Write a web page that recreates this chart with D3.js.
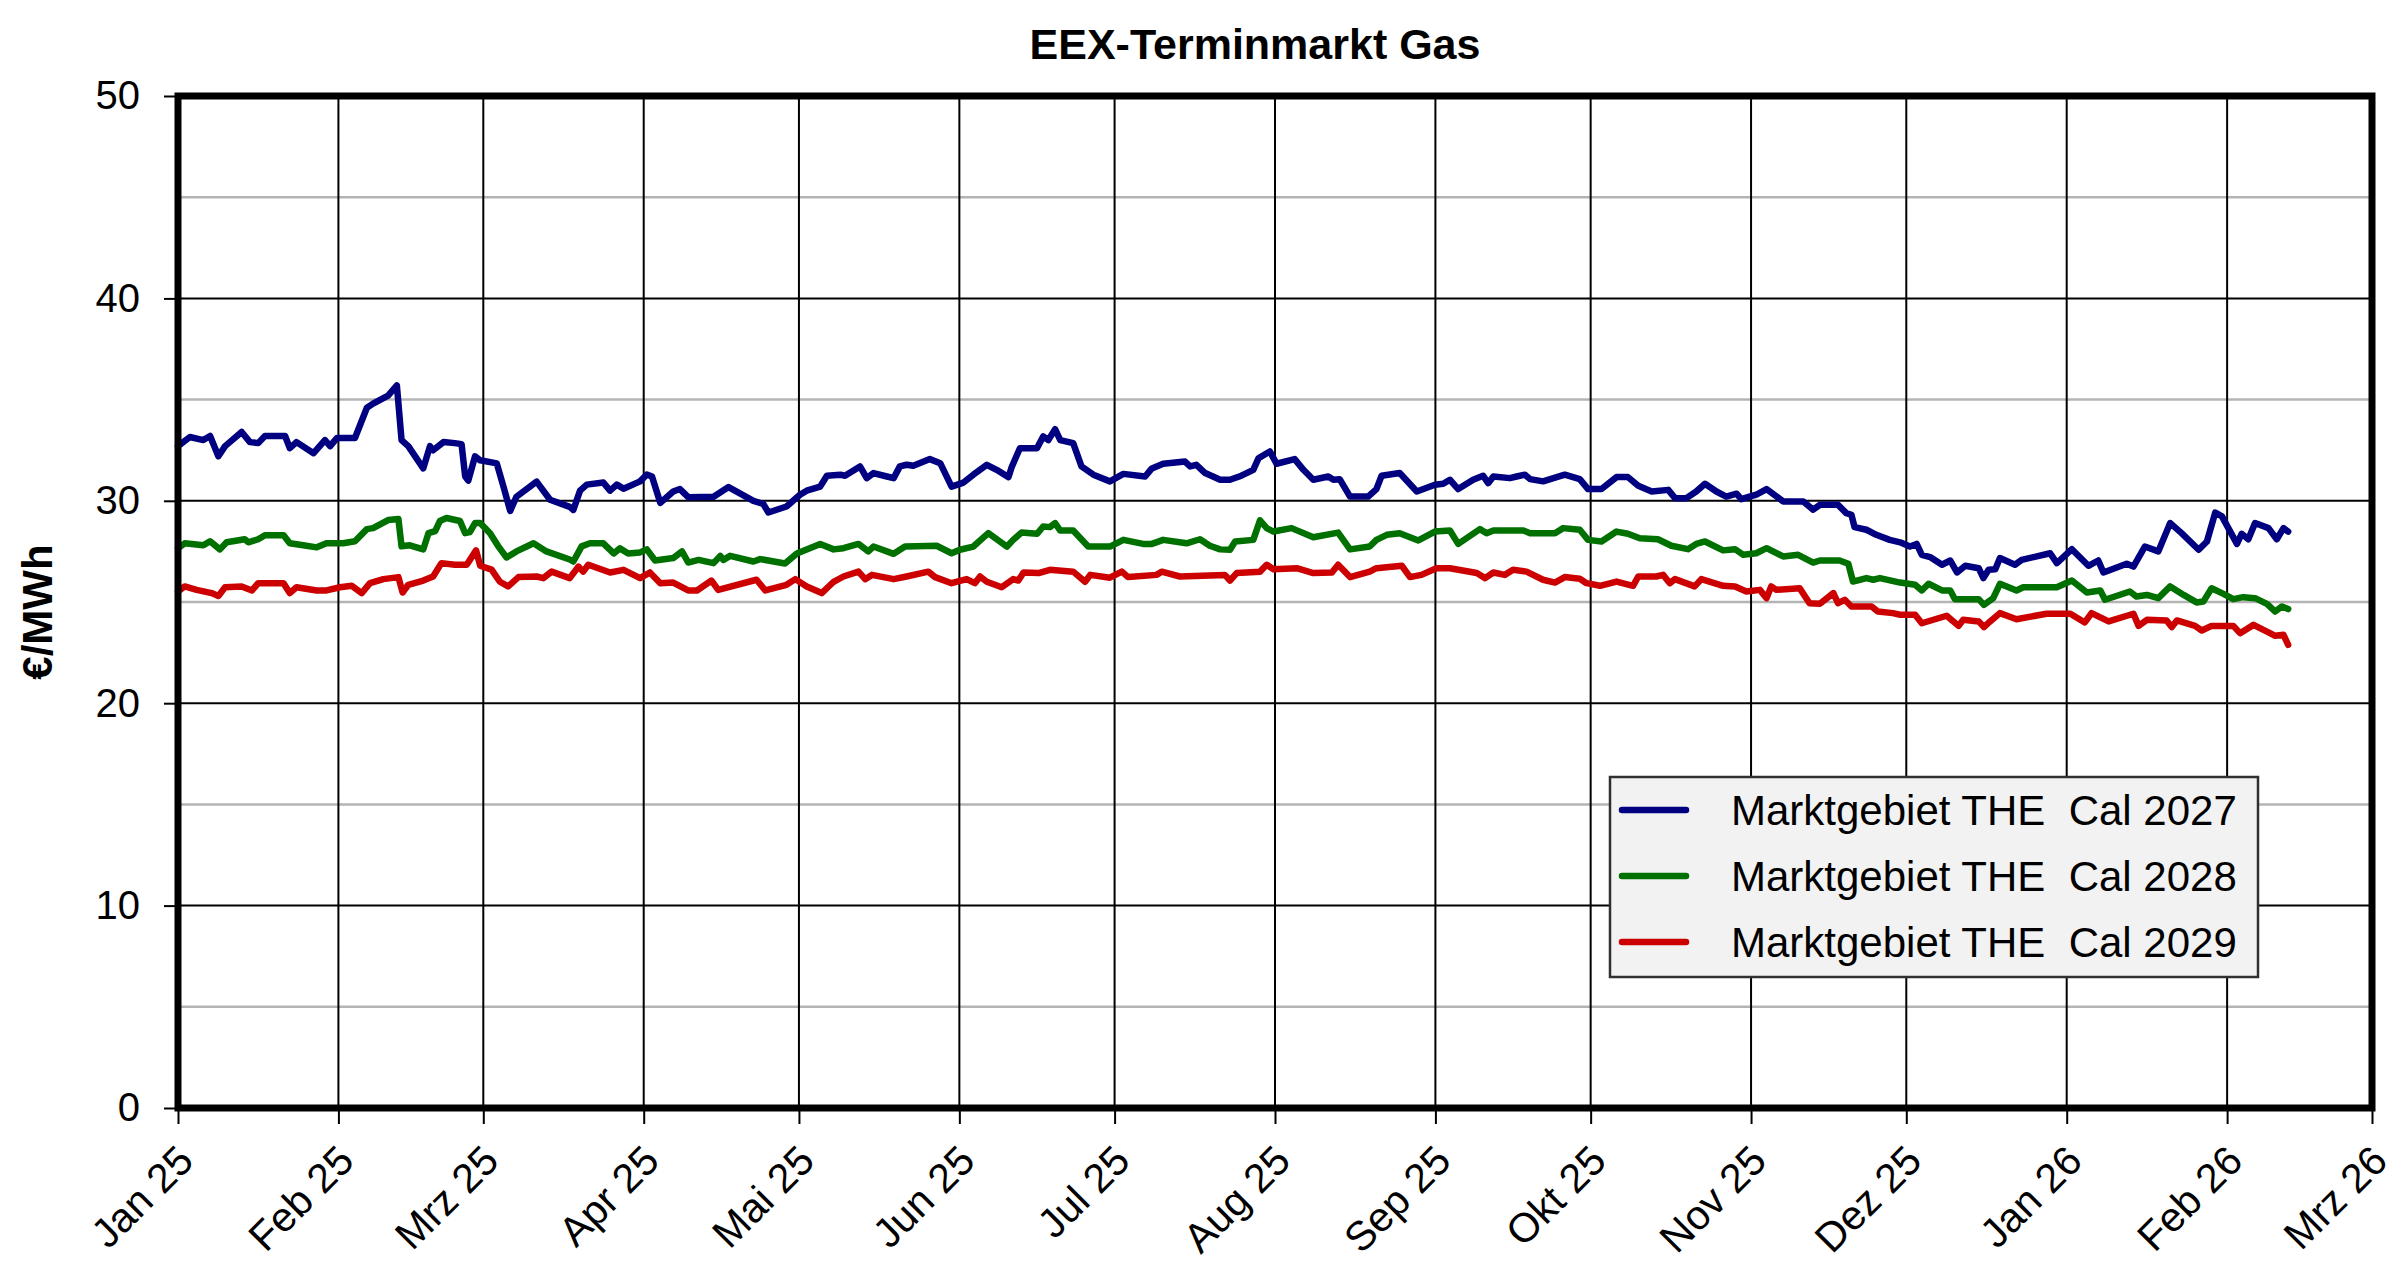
<!DOCTYPE html>
<html>
<head>
<meta charset="utf-8">
<script src="https://cdn.jsdelivr.net/npm/d3@7"></script>
<style>
  html, body { margin: 0; padding: 0; background: #ffffff; }
  svg { display: block; font-family: "Liberation Sans", Arial, sans-serif; }
  text { white-space: pre; }
</style>
</head>
<body>
<svg id="chart" width="2400" height="1277"></svg>
<script>
// ---------- data (days since 1 Jan 2025, €/MWh) ----------
const startDate = new Date(2025, 0, 1);
const endDate = new Date(2026, 2, 1);

const monthLabels = ["Jan 25","Feb 25","Mrz 25","Apr 25","Mai 25","Jun 25","Jul 25","Aug 25",
                     "Sep 25","Okt 25","Nov 25","Dez 25","Jan 26","Feb 26","Mrz 26"];
const yTicks = [0, 10, 20, 30, 40, 50];
const yMinorTicks = [5, 15, 25, 35, 45];

const seriesNames = ["Marktgebiet THE  Cal 2027", "Marktgebiet THE  Cal 2028", "Marktgebiet THE  Cal 2029"];
const seriesColors = ["#000080", "#007000", "#cc0000"];

const cal2027Days = [0,2.3,4.9,6.2,7.8,9.1,12.3,13.9,15.5,16.8,20.7,21.6,22.9,26.2,28.4,29.4,30.7,34.2,36.5,37.7,40.6,42.3,43.2,44.5,47.4,48.7,49.3,51.3,53.5,54.8,55.5,56.1,57.4,58.4,61.6,62.9,64.2,65.4,69.3,71.9,75.7,76.4,77.7,79.0,82.2,83.5,84.8,86.1,
  89.3,90.6,91.6,93.2,95.7,97.0,98.6,103.5,106.4,111.2,113.1,114.1,117.6,120.2,121.5,124.1,125.4,128.0,128.9,131.8,133.1,134.4,137.0,138.3,139.5,140.8,142.1,145.3,147.3,149.5,151.8,153.7,156.3,158.2,160.5,161.1,162.7,166.0,167.2,168.2,169.5,170.5,173.0,174.6,176.9,
  180.1,182.7,186.9,188.2,190.4,194.6,195.6,196.8,198.5,201.4,203.3,205.5,207.8,208.8,211.0,212.3,215.8,217.5,219.4,222.3,223.3,224.5,226.5,230.0,231.6,232.6,236.1,239.4,242.9,244.5,245.8,247.4,250.3,252.2,253.2,254.2,257.4,258.7,260.3,261.3,263.8,268.0,
  270.9,272.5,275.1,278.0,280.2,282.2,284.8,288.0,289.3,291.5,293.4,295.1,297.3,299.2,301.2,302.1,305.0,307.0,310.2,314.1,316.0,317.3,320.8,322.4,323.4,324.0,326.3,328.2,330.8,
  332.8,334.7,336.0,337.0,338.6,340.9,342.5,343.8,345.4,348.0,348.9,349.9,351.2,352.1,355.0,356.3,361.8,363.1,366.0,369.2,371.1,372.1,376.6,377.9,380.1,382.7,385.0,387.2,390.5,392.1,393.7,395.0,397.9,398.8,400.1,401.4,404.0,405.6,406.9,407.8];
const cal2027Values = [32.7,33.15,33.0,33.2,32.2,32.7,33.4,32.9,32.85,33.2,33.2,32.6,32.9,32.35,33.0,32.7,33.1,33.1,34.6,34.8,35.2,35.7,33.0,32.7,31.6,32.7,32.5,32.9,32.85,32.8,31.2,31.0,32.2,32.0,31.85,30.7,29.5,30.2,30.95,30.05,29.7,29.55,30.5,30.8,30.9,30.5,30.8,30.6,
  30.96,31.3,31.2,29.9,30.46,30.58,30.18,30.2,30.68,30.0,29.85,29.42,29.72,30.3,30.5,30.7,31.24,31.29,31.24,31.7,31.12,31.37,31.2,31.12,31.7,31.78,31.73,32.06,31.86,30.7,30.9,31.29,31.78,31.53,31.17,31.66,32.6,32.6,33.18,33.0,33.54,33.0,32.85,31.7,31.29,
  30.96,31.33,31.2,31.6,31.83,31.94,31.7,31.78,31.37,31.04,31.04,31.24,31.53,32.1,32.44,31.83,32.06,31.53,31.04,31.2,31.04,31.07,30.21,30.21,30.58,31.24,31.37,30.46,30.79,30.84,31.04,30.58,31.04,31.24,30.87,31.2,31.12,31.2,31.29,31.07,30.96,31.29,
  31.07,30.58,30.58,31.17,31.17,30.74,30.46,30.54,30.13,30.13,30.46,30.84,30.46,30.21,30.35,30.08,30.3,30.58,29.97,29.97,29.56,29.8,29.8,29.39,29.31,28.7,28.57,28.32,28.07,
  27.95,27.74,27.87,27.33,27.22,26.84,27.05,26.46,26.79,26.67,26.18,26.59,26.62,27.17,26.84,27.08,27.41,26.92,27.61,26.79,27.05,26.46,26.89,26.75,27.74,27.5,28.9,28.4,27.58,27.99,29.42,29.23,27.87,28.37,28.1,28.9,28.65,28.1,28.65,28.48];

const cal2028Days = [0,1.3,4.9,6.2,8.1,9.4,12.9,13.6,15.5,16.8,20.4,21.6,24.2,26.8,28.7,31.9,34.2,36.5,37.7,40.6,42.6,43.2,44.8,47.4,48.4,49.7,50.6,51.9,54.5,55.5,56.4,57.4,58.4,60.3,61.9,63.5,65.4,68.7,71.2,75.7,76.4,78.0,79.6,82.2,84.2,85.4,87.0,
  89.3,90.6,92.2,95.7,97.4,98.6,100.6,103.5,104.8,105.4,106.7,111.2,112.5,117.3,119.6,124.1,126.7,128.6,131.5,133.4,134.4,138.3,140.5,146.6,149.5,151.1,153.7,156.6,160.2,161.4,163.0,166.0,167.2,168.5,169.5,170.5,173.0,175.9,
  180.1,182.7,186.5,188.2,190.4,194.9,197.5,199.4,201.4,203.3,204.3,207.8,209.1,210.4,211.7,215.2,219.4,224.2,226.5,230.3,231.6,233.6,236.1,239.7,242.9,245.8,247.4,251.6,252.9,254.2,260.0,261.3,266.1,267.7,
  270.9,272.5,275.1,278.0,280.2,282.5,286.0,288.6,291.8,293.4,295.1,298.6,300.9,302.5,305.0,307.0,310.2,313.1,316.0,317.3,321.1,322.8,323.7,326.3,327.6,328.9,
  332.8,335.7,337.0,338.3,340.9,342.5,343.4,348.0,349.0,350.8,352.1,355.3,356.6,363.1,366.0,368.9,371.5,372.4,377.2,378.5,380.5,382.7,385.0,387.6,390.1,391.4,393.0,395.3,397.2,399.1,401.4,403.7,405.3,406.6,407.8];
const cal2028Values = [27.66,27.9,27.8,28.0,27.6,27.95,28.1,27.95,28.1,28.3,28.3,27.9,27.8,27.7,27.9,27.9,28.0,28.6,28.65,29.05,29.1,27.75,27.8,27.6,28.4,28.5,29.0,29.15,29.0,28.4,28.45,28.9,28.9,28.4,27.75,27.2,27.5,27.9,27.5,27.1,27.0,27.75,27.9,27.9,27.4,27.65,27.4,
  27.45,27.6,27.05,27.17,27.5,26.95,27.08,26.92,27.28,27.08,27.28,27.0,27.12,26.9,27.4,27.87,27.6,27.66,27.87,27.5,27.74,27.38,27.74,27.78,27.41,27.58,27.74,28.4,27.74,28.07,28.43,28.37,28.73,28.7,28.9,28.53,28.53,27.74,
  27.74,28.07,27.87,27.87,28.07,27.9,28.1,27.78,27.6,27.58,27.99,28.07,29.03,28.65,28.48,28.65,28.2,28.43,27.6,27.74,28.07,28.32,28.4,28.04,28.48,28.53,27.87,28.6,28.4,28.53,28.53,28.4,28.4,28.65,
  28.57,28.07,27.99,28.48,28.37,28.15,28.1,27.78,27.61,27.87,27.99,27.55,27.61,27.33,27.41,27.66,27.25,27.33,26.95,27.05,27.05,26.89,26.01,26.18,26.1,26.18,
  25.96,25.85,25.57,25.9,25.57,25.57,25.14,25.14,24.86,25.19,25.9,25.57,25.73,25.73,26.06,25.47,25.57,25.11,25.52,25.27,25.35,25.19,25.77,25.35,24.98,25.02,25.68,25.4,25.14,25.24,25.19,24.91,24.53,24.78,24.65];

const cal2029Days = [0,1.3,3.6,6.5,7.8,9.1,12.3,14.3,15.5,20.4,21.6,22.9,26.8,28.7,31.3,33.6,35.5,37.1,39.7,42.6,43.4,44.5,47.4,49.3,50.9,53.5,55.8,57.6,58.4,60.6,62.2,63.8,65.8,69.3,70.6,72.2,75.7,77.4,78.3,79.3,83.5,86.1,
  89.3,91.2,93.2,95.7,98.6,100.3,103.1,104.4,111.8,113.5,117.6,119.3,121.5,124.4,126.7,128.6,131.5,132.8,134.1,138.3,140.8,145.0,146.3,149.5,152.4,154.0,155.0,156.3,159.2,161.4,162.4,163.4,166.3,168.5,173.0,175.3,176.3,
  180.1,182.4,183.6,189.1,190.1,193.6,202.3,203.3,204.6,209.1,210.4,211.7,216.2,219.4,223.0,224.2,226.5,230.3,231.6,236.5,238.1,240.3,243.2,245.8,251.0,252.6,254.2,256.4,258.0,260.6,263.8,266.1,268.0,
  270.9,272.2,274.8,278.0,281.2,282.2,285.7,287.0,288.3,289.3,293.1,294.4,298.6,300.9,303.1,305.7,307.0,307.9,308.9,313.4,315.3,317.3,319.9,320.8,322.1,323.4,327.3,328.5,331.4,
  332.8,335.7,337.0,341.8,344.1,345.0,348.0,349.0,350.2,352.1,355.3,361.1,365.7,368.5,369.8,373.1,377.9,378.9,380.5,384.3,385.3,386.3,389.8,391.1,393.0,397.2,398.5,401.1,403.7,405.3,406.9,407.8];
const cal2029Values = [25.52,25.77,25.6,25.44,25.3,25.73,25.77,25.57,25.93,25.93,25.44,25.73,25.57,25.57,25.73,25.8,25.44,25.93,26.13,26.23,25.47,25.85,26.06,26.26,26.92,26.84,26.84,27.55,26.79,26.6,26.0,25.77,26.23,26.26,26.18,26.5,26.18,26.75,26.5,26.84,26.46,26.59,
  26.18,26.46,25.93,25.96,25.57,25.57,26.06,25.6,26.1,25.57,25.85,26.13,25.77,25.44,26.0,26.26,26.5,26.13,26.34,26.13,26.26,26.5,26.23,25.93,26.13,25.93,26.26,26.0,25.73,26.13,26.06,26.46,26.43,26.59,26.5,26.0,26.34,
  26.2,26.5,26.23,26.34,26.5,26.26,26.34,26.06,26.43,26.5,26.84,26.62,26.67,26.43,26.46,26.84,26.23,26.5,26.67,26.79,26.23,26.34,26.67,26.67,26.43,26.18,26.46,26.34,26.59,26.5,26.1,25.96,26.23,
  26.15,25.93,25.8,26.01,25.8,26.26,26.26,26.34,25.93,26.13,25.77,26.13,25.8,25.77,25.52,25.6,25.19,25.77,25.6,25.68,24.94,24.91,25.44,24.94,25.11,24.78,24.78,24.53,24.45,
  24.37,24.37,23.95,24.32,23.82,24.12,24.04,23.76,24.04,24.45,24.15,24.42,24.42,23.99,24.45,24.04,24.42,23.82,24.12,24.09,23.76,24.09,23.82,23.59,23.82,23.82,23.46,23.87,23.54,23.33,23.38,22.88];

// ---------- layout ----------
const svg = d3.select("#chart");
const plot = { left: 178, right: 2372, top: 96, bottom: 1108 };

const x = d3.scaleTime().domain([startDate, endDate]).range([plot.left, plot.right]);
const y = d3.scaleLinear().domain([0, 50]).range([plot.bottom, plot.top]);

const toDate = d => new Date(startDate.getTime() + d * 86400000);

// title
svg.append("text")
  .attr("x", 1255).attr("y", 59)
  .attr("text-anchor", "middle")
  .attr("font-size", 43).attr("font-weight", "bold")
  .text("EEX-Terminmarkt Gas");

// y-axis title
svg.append("text")
  .attr("transform", "translate(52,612) rotate(-90)")
  .attr("text-anchor", "middle")
  .attr("font-size", 42).attr("font-weight", "bold")
  .text("€/MWh");

// minor horizontal grid (grey)
svg.append("g").selectAll("line").data(yMinorTicks).join("line")
  .attr("x1", plot.left).attr("x2", plot.right)
  .attr("y1", d => y(d)).attr("y2", d => y(d))
  .attr("stroke", "#b4b4b4").attr("stroke-width", 2.5);

// major horizontal grid (black)
svg.append("g").selectAll("line").data(yTicks.filter(d => d > 0 && d < 50)).join("line")
  .attr("x1", plot.left).attr("x2", plot.right)
  .attr("y1", d => y(d)).attr("y2", d => y(d))
  .attr("stroke", "#000").attr("stroke-width", 2);

// vertical grid
const monthTicks = d3.timeMonth.range(startDate, d3.timeDay.offset(endDate, 1));
svg.append("g").selectAll("line").data(monthTicks.slice(1, -1)).join("line")
  .attr("x1", d => x(d)).attr("x2", d => x(d))
  .attr("y1", plot.top).attr("y2", plot.bottom)
  .attr("stroke", "#000").attr("stroke-width", 2);

// x axis ticks + labels
const xAxis = d3.axisBottom(x)
  .tickValues(monthTicks)
  .tickSize(16)
  .tickFormat((d, i) => monthLabels[i]);
const gx = svg.append("g").attr("transform", `translate(0,${plot.bottom})`).call(xAxis);
gx.select(".domain").remove();
gx.selectAll(".tick line").attr("stroke", "#000").attr("stroke-width", 2);
gx.selectAll(".tick text")
  .attr("font-family", "Liberation Sans, Arial, sans-serif")
  .attr("font-size", 41)
  .attr("fill", "#000")
  .attr("text-anchor", "end")
  .attr("x", 0).attr("y", 0).attr("dy", "0.35em")
  .attr("transform", "translate(7,45) rotate(-45)");

// y axis ticks + labels
const yAxis = d3.axisLeft(y).tickValues(yTicks).tickSize(14).tickPadding(24);
const gy = svg.append("g").attr("transform", `translate(${plot.left},0)`).call(yAxis);
gy.select(".domain").remove();
gy.selectAll(".tick line").attr("stroke", "#000").attr("stroke-width", 2);
gy.selectAll(".tick text")
  .attr("font-family", "Liberation Sans, Arial, sans-serif")
  .attr("font-size", 40).attr("fill", "#000");

// series lines
const line = d3.line().x(d => x(toDate(d[0]))).y(d => y(d[1]));
const series = [
  d3.zip(cal2027Days, cal2027Values),
  d3.zip(cal2028Days, cal2028Values),
  d3.zip(cal2029Days, cal2029Values)
];
svg.append("g").selectAll("path").data(series).join("path")
  .attr("d", line)
  .attr("fill", "none")
  .attr("stroke", (d, i) => seriesColors[i])
  .attr("stroke-width", 6.5)
  .attr("stroke-linejoin", "round")
  .attr("stroke-linecap", "round");

// frame
svg.append("rect")
  .attr("x", plot.left).attr("y", plot.top)
  .attr("width", plot.right - plot.left).attr("height", plot.bottom - plot.top)
  .attr("fill", "none").attr("stroke", "#000").attr("stroke-width", 7);

// legend
const legend = svg.append("g");
legend.append("rect")
  .attr("x", 1610).attr("y", 777).attr("width", 648).attr("height", 200)
  .attr("fill", "#f2f2f2").attr("stroke", "#303030").attr("stroke-width", 2.5);
const rows = legend.selectAll("g.row").data(seriesNames).join("g")
  .attr("class", "row")
  .attr("transform", (d, i) => `translate(0,${810 + i * 66})`);
rows.append("line")
  .attr("x1", 1622).attr("x2", 1686).attr("y1", 0).attr("y2", 0)
  .attr("stroke", (d, i) => seriesColors[i]).attr("stroke-width", 6.5)
  .attr("stroke-linecap", "round");
rows.append("text")
  .attr("x", 1731).attr("y", 0).attr("dy", "0.35em")
  .attr("font-size", 42).attr("fill", "#000")
  .text(d => d);
</script>
</body>
</html>
